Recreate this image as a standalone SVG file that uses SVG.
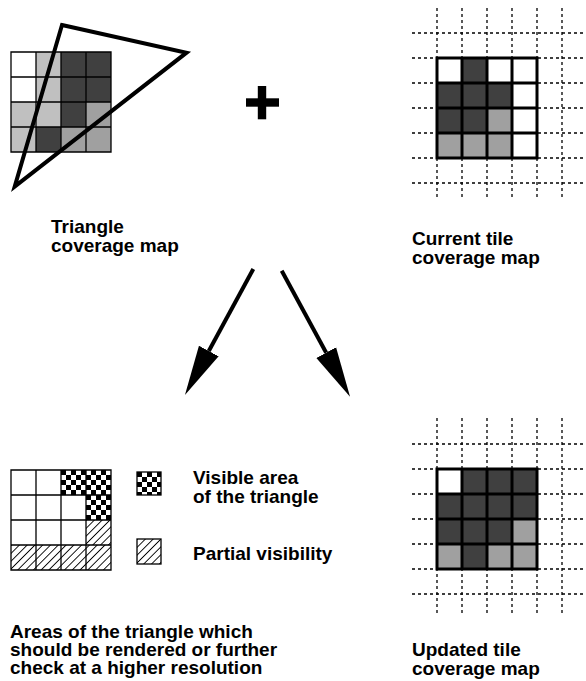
<svg xmlns="http://www.w3.org/2000/svg" width="586" height="681" viewBox="0 0 586 681">
<style>
text{font-family:"Liberation Sans",Arial,sans-serif;font-weight:bold;font-size:19px;fill:#000}
.dk{fill:#404040}.md{fill:#a0a0a0}.lt{fill:#c0c0c0}.wh{fill:#fff}
.thin{fill:none;stroke:#000;stroke-width:1.3}
.thick{fill:none;stroke:#000;stroke-width:3}
.dash{fill:none;stroke:#000;stroke-width:1.3;stroke-dasharray:3 3}
</style>
<defs>
<pattern id="checker" patternUnits="userSpaceOnUse" width="10" height="10">
<rect width="10" height="10" fill="#fff"/>
<rect width="5" height="5" fill="#000"/>
<rect x="5" y="5" width="5" height="5" fill="#000"/>
</pattern>
<pattern id="hatch" patternUnits="userSpaceOnUse" width="5.5" height="5.5" patternTransform="rotate(45)">
<rect width="5.5" height="5.5" fill="#fff"/>
<line x1="0" y1="0" x2="0" y2="5.5" stroke="#000" stroke-width="1.8"/>
</pattern>
<marker id="head" markerUnits="userSpaceOnUse" markerWidth="52" markerHeight="24" viewBox="0 -12 52 24" refX="0" refY="0" orient="auto">
<path d="M0,-11.2 L50,0 L0,11.2 Z" fill="#000"/>
</marker>
</defs>

<g id="triangle-map">
<rect class="wh" x="11" y="52" width="25" height="25"/>
<rect class="lt" x="36" y="52" width="25" height="25"/>
<rect class="dk" x="61" y="52" width="25" height="25"/>
<rect class="dk" x="86" y="52" width="25" height="25"/>
<rect class="wh" x="11" y="77" width="25" height="25"/>
<rect class="lt" x="36" y="77" width="25" height="25"/>
<rect class="dk" x="61" y="77" width="25" height="25"/>
<rect class="dk" x="86" y="77" width="25" height="25"/>
<rect class="lt" x="11" y="102" width="25" height="25"/>
<rect class="lt" x="36" y="102" width="25" height="25"/>
<rect class="dk" x="61" y="102" width="25" height="25"/>
<rect class="md" x="86" y="102" width="25" height="25"/>
<rect class="lt" x="11" y="127" width="25" height="25"/>
<rect class="dk" x="36" y="127" width="25" height="25"/>
<rect class="md" x="61" y="127" width="25" height="25"/>
<rect class="md" x="86" y="127" width="25" height="25"/>
<path class="thin" d="M11,52H111V152H11Z M36,52V152 M61,52V152 M86,52V152 M11,77H111 M11,102H111 M11,127H111"/>
<polygon points="62,25 186.5,52.7 14.7,186.6" fill="none" stroke="#000" stroke-width="4"/>
<text x="51" y="233">Triangle</text>
<text x="51" y="252">coverage map</text>
</g>

<g id="plus">
<rect x="246" y="98.3" width="33" height="8.4" fill="#000"/>
<rect x="257.8" y="86" width="8.4" height="33.3" fill="#000"/>
</g>

<g id="current-tile">
<path class="dash" d="M437,8V198 M462,8V198 M487,8V198 M512,8V198 M537,8V198 M562,8V198 M412,33H586 M412,58H586 M412,83H586 M412,108H586 M412,133H586 M412,158H586 M412,183H586"/>
<rect class="wh" x="437" y="58" width="25" height="25"/>
<rect class="dk" x="462" y="58" width="25" height="25"/>
<rect class="wh" x="487" y="58" width="25" height="25"/>
<rect class="wh" x="512" y="58" width="25" height="25"/>
<rect class="dk" x="437" y="83" width="25" height="25"/>
<rect class="dk" x="462" y="83" width="25" height="25"/>
<rect class="dk" x="487" y="83" width="25" height="25"/>
<rect class="wh" x="512" y="83" width="25" height="25"/>
<rect class="dk" x="437" y="108" width="25" height="25"/>
<rect class="dk" x="462" y="108" width="25" height="25"/>
<rect class="md" x="487" y="108" width="25" height="25"/>
<rect class="wh" x="512" y="108" width="25" height="25"/>
<rect class="md" x="437" y="133" width="25" height="25"/>
<rect class="md" x="462" y="133" width="25" height="25"/>
<rect class="md" x="487" y="133" width="25" height="25"/>
<rect class="wh" x="512" y="133" width="25" height="25"/>
<path class="thick" d="M437,58H537V158H437Z M462,58V158 M487,58V158 M512,58V158 M437,83H537 M437,108H537 M437,133H537"/>
<text x="412" y="245">Current tile</text>
<text x="412" y="263.5">coverage map</text>
</g>

<g id="connectors">
<line x1="253.3" y1="269" x2="208.8" y2="351" stroke="#000" stroke-width="4" marker-end="url(#head)"/>
<line x1="281.7" y1="270.7" x2="326.2" y2="352.7" stroke="#000" stroke-width="4" marker-end="url(#head)"/>
</g>

<g id="visibility-map">
<rect class="wh" x="11" y="470" width="100" height="100"/>
<g transform="translate(61,470)"><rect width="50" height="25" fill="url(#checker)"/></g>
<g transform="translate(86,495)"><rect width="25" height="25" fill="url(#checker)"/></g>
<g transform="translate(86,520)"><rect width="25" height="25" fill="url(#hatch)"/></g>
<g transform="translate(11,545)"><rect width="100" height="25" fill="url(#hatch)"/></g>
<path class="thin" d="M11,470H111V570H11Z M36,470V570 M61,470V570 M86,470V570 M11,495H111 M11,520H111 M11,545H111"/>
<text x="10" y="638">Areas of the triangle which</text>
<text x="10" y="656">should be rendered or further</text>
<text x="10" y="674">check at a higher resolution</text>
</g>

<g id="legend-visible">
<g transform="translate(137,472)"><rect width="24" height="23" fill="url(#checker)" stroke="#000" stroke-width="1.3"/></g>
<text x="193" y="484">Visible area</text>
<text x="193" y="503">of the triangle</text>
</g>

<g id="legend-partial">
<g transform="translate(137,539)"><rect width="24" height="25" fill="url(#hatch)" stroke="#000" stroke-width="1.3"/></g>
<text x="193" y="560">Partial visibility</text>
</g>

<g id="updated-tile">
<path class="dash" d="M437,418V615 M462,418V615 M487,418V615 M512,418V615 M537,418V615 M562,418V615 M412,444H586 M412,469H586 M412,494H586 M412,519H586 M412,544H586 M412,569H586 M412,594H586"/>
<rect class="wh" x="437" y="469" width="25" height="25"/>
<rect class="dk" x="462" y="469" width="25" height="25"/>
<rect class="dk" x="487" y="469" width="25" height="25"/>
<rect class="dk" x="512" y="469" width="25" height="25"/>
<rect class="dk" x="437" y="494" width="25" height="25"/>
<rect class="dk" x="462" y="494" width="25" height="25"/>
<rect class="dk" x="487" y="494" width="25" height="25"/>
<rect class="dk" x="512" y="494" width="25" height="25"/>
<rect class="dk" x="437" y="519" width="25" height="25"/>
<rect class="dk" x="462" y="519" width="25" height="25"/>
<rect class="dk" x="487" y="519" width="25" height="25"/>
<rect class="md" x="512" y="519" width="25" height="25"/>
<rect class="md" x="437" y="544" width="25" height="25"/>
<rect class="dk" x="462" y="544" width="25" height="25"/>
<rect class="md" x="487" y="544" width="25" height="25"/>
<rect class="md" x="512" y="544" width="25" height="25"/>
<path class="thick" d="M437,469H537V569H437Z M462,469V569 M487,469V569 M512,469V569 M437,494H537 M437,519H537 M437,544H537"/>
<text x="412" y="656">Updated tile</text>
<text x="412" y="674.5">coverage map</text>
</g>
</svg>
